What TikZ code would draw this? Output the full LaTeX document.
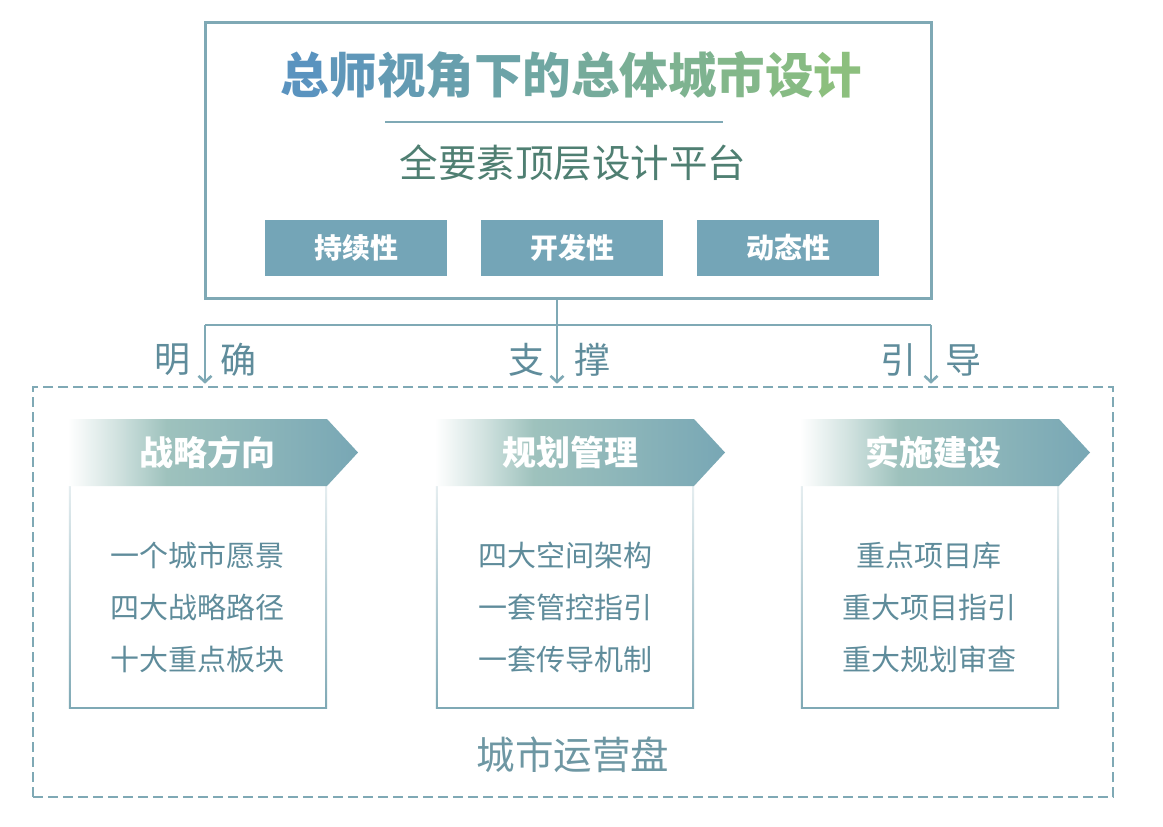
\documentclass[tikz,border=0pt]{standalone}
\usepackage{fontspec}
\setmainfont{Noto Sans CJK SC}
\usetikzlibrary{arrows.meta,calc}
\definecolor{frame}{HTML}{7FA9B5}
\definecolor{boxfill}{HTML}{74A5B7}
\definecolor{lbl}{HTML}{5F8C9B}
\definecolor{subc}{HTML}{4F7F72}
\definecolor{tblue}{HTML}{5A93BF}
\definecolor{tgreen}{HTML}{8CBF7E}
\definecolor{bmid}{HTML}{9EC2BD}
\definecolor{bend}{HTML}{78A7B5}
\definecolor{opsc}{HTML}{6E97A3}
\pgfdeclarehorizontalshading{bannershade}{100bp}{color(0bp)=(white); color(25bp)=(white); color(33bp)=(bmid!45!white); color(42bp)=(bmid); color(75bp)=(bend); color(100bp)=(bend)}
\newcommand\gch[2]{\textcolor{tgreen!#1!tblue}{#2}}
\tikzset{
  pillar/.style={fill=boxfill, text=white, minimum width=182pt, minimum height=56pt, inner sep=0pt, font=\fontsize{28}{28}\selectfont\bfseries},
  lblstyle/.style={text=lbl, inner sep=0pt, font=\fontsize{36}{36}\selectfont},
  conn/.style={draw=frame, line width=2.6pt},
  arr/.style={conn, -{Straight Barb[length=6pt,width=13pt]}, shorten >=2pt},
  cbox/.style={minimum width=258pt, minimum height=222pt, inner sep=0pt},
  ctext/.style={text=lbl, align=center, inner sep=0pt, font=\fontsize{29}{52}\selectfont},
  btext/.style={text=white, inner sep=0pt, font=\fontsize{34}{34}\selectfont\bfseries},
  sideline/.style={top color=frame!20!white, bottom color=frame},
}
\begin{document}
\begin{tikzpicture}[x=1pt,y=-1pt]
\useasboundingbox (0,0) rectangle (1163,827);
\fill[white] (0,0) rectangle (1163,827);

% top frame
\node[draw=frame, line width=3pt, minimum width=726pt, minimum height=276pt, inner sep=0pt] (top) at (568,160) {};
\node[inner sep=0pt, font=\fontsize{48.5}{48.5}\selectfont\bfseries] (title) at (571,75)
 {\gch{0}{总}\gch{9}{师}\gch{18}{视}\gch{27}{角}\gch{36}{下}\gch{45}{的}\gch{55}{总}\gch{64}{体}\gch{73}{城}\gch{82}{市}\gch{91}{设}\gch{100}{计}};
\draw[frame, line width=2.6pt] (385,122) -- (723,122);
\node[inner sep=0pt, text=subc, font=\fontsize{38.5}{38.5}\selectfont] (subt) at (573,163) {全要素顶层设计平台};
\node[pillar] (p1) at (356,248) {持续性};
\node[pillar] (p2) at (572,248) {开发性};
\node[pillar] (p3) at (788,248) {动态性};

% platform frame
\node[draw=frame, line width=2.6pt, dash pattern=on 10pt off 5pt, minimum width=1080pt, minimum height=410pt, inner sep=0pt] (plat) at (573,592) {};

% connectors
\coordinate (hub) at (557,325);
\coordinate (jl) at (205,325);
\coordinate (jr) at (931,325);
\draw[conn] (jl) -- (jr);
\draw[arr] (top.south -| hub) -- (hub |- plat.north);
\draw[arr] (jl) -- (jl |- plat.north);
\draw[arr] (jr) -- (jr |- plat.north);

\node[lblstyle] (l1) at (172,360) {明};
\node[lblstyle] (l2) at (238,360) {确};
\node[lblstyle] (l3) at (526,360) {支};
\node[lblstyle] (l4) at (592,360) {撑};
\node[lblstyle] (l5) at (898,360) {引};
\node[lblstyle] (l6) at (963,360) {导};

% content boxes
\node[cbox] (b1) at (198,597) {};
\node[cbox] (b2) at (565,597) {};
\node[cbox] (b3) at (930,597) {};
\foreach \b in {b1,b2,b3}{
  \shade[sideline] (\b.north west) rectangle ($(\b.south west)+(1.8,0)$);
  \shade[sideline] ($(\b.north east)+(-1.8,0)$) rectangle (\b.south east);
  \draw[frame, line width=1.8pt] (\b.south west) -- (\b.south east);
}
\node[ctext] (t1) at (197,607) {一个城市愿景\\四大战略路径\\十大重点板块};
\node[ctext] (t2) at (565,607) {四大空间架构\\一套管控指引\\一套传导机制};
\node[ctext] (t3) at (929,607) {重点项目库\\重大项目指引\\重大规划审查};

% banners
\foreach \xa/\xb in {68/327, 435/694, 800/1059}{
  \shade[shading=bannershade] (\xa,419) -- (\xb,419) -- ({\xb+31},452.5) -- (\xb,486) -- (\xa,486) -- cycle;
}
\node[btext] (h1) at (207,452) {战略方向};
\node[btext] (h2) at (570,452) {规划管理};
\node[btext] (h3) at (933,452) {实施建设};

\node[inner sep=0pt, text=opsc, font=\fontsize{38.5}{38.5}\selectfont] (ops) at (573,755) {城市运营盘};
\end{tikzpicture}
\end{document}
